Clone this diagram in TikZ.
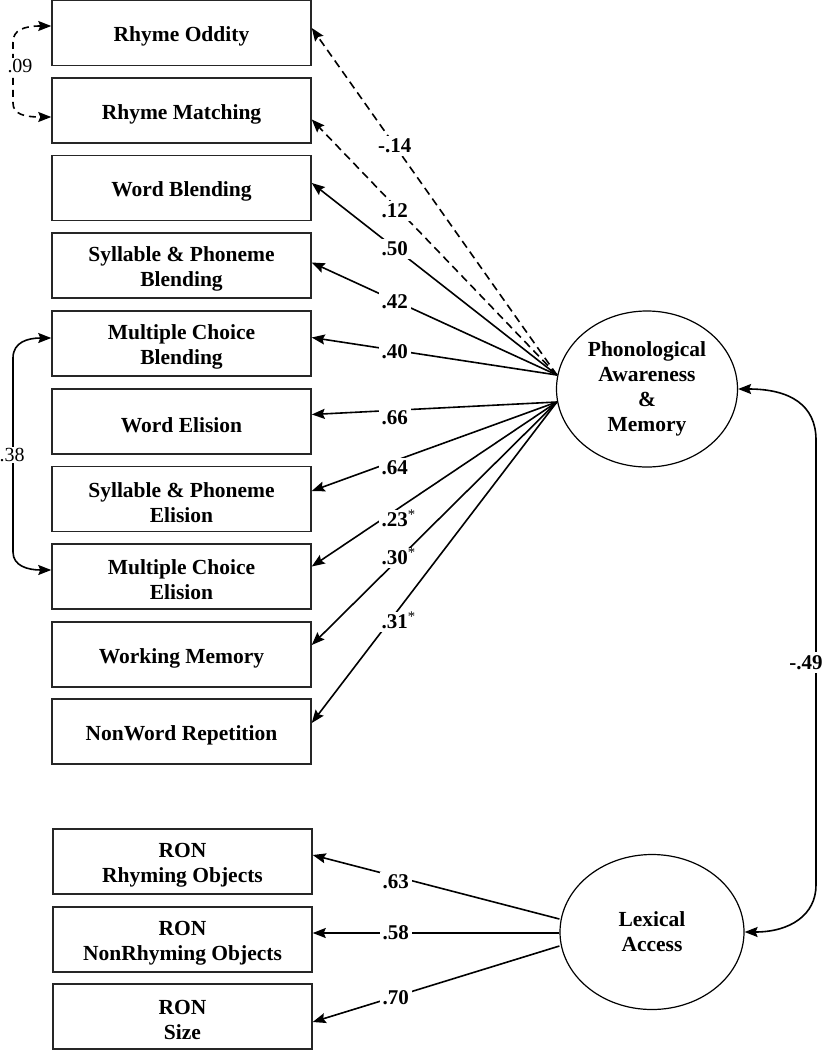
\documentclass[tikz,border=0pt]{standalone}
\usepackage{fontspec}
\setmainfont{Liberation Serif}
\usetikzlibrary{arrows.meta,shapes.geometric,calc}
\newcommand{\toppad}{\rule{0pt}{22pt}}
\begin{document}
\begin{tikzpicture}[x=1pt,y=-1pt,
  obs/.style={draw=black!85, line width=1.5pt, minimum width=259pt, minimum height=65pt, inner sep=0pt, align=center, font=\fontsize{21.5}{25}\selectfont\bfseries},
  lat/.style={draw, ellipse, line width=1.2pt, inner sep=0pt, align=center, font=\fontsize{21.5}{25}\selectfont\bfseries},
  tipshape/.tip={Stealth[length=13pt,width=10pt,inset=2pt]},
  conn/.style={line width=1.6pt, -tipshape},
  dconn/.style={conn, dash pattern=on 8pt off 5pt},
  biconn/.style={line width=1.6pt, tipshape-tipshape},
  dbiconn/.style={biconn, dash pattern=on 7pt off 5pt},
  lbl/.style={fill=white, inner sep=3pt, font=\fontsize{21}{25}\selectfont\bfseries},
  clbl/.style={fill=white, inner sep=1pt, font=\fontsize{20}{24}\selectfont},
]
\useasboundingbox (0,0) rectangle (823,1050);

% observed indicators
\node[obs] (b1)  at (181.5,33)    {\toppad Rhyme Oddity};
\node[obs] (b2)  at (181.5,110.5) {\toppad Rhyme Matching};
\node[obs] (b3)  at (181.5,188)   {\toppad Word Blending};
\node[obs] (b4)  at (181.5,265.5) {\toppad Syllable \& Phoneme\\Blending};
\node[obs] (b5)  at (181.5,343.5) {\toppad Multiple Choice\\Blending};
\node[obs] (b6)  at (181.5,421.5) {\toppad Word Elision};
\node[obs] (b7)  at (181.5,499)   {\toppad Syllable \& Phoneme\\Elision};
\node[obs] (b8)  at (181.5,576.5) {\toppad Multiple Choice\\Elision};
\node[obs] (b9)  at (181.5,654.5) {\toppad Working Memory};
\node[obs] (b10) at (181.5,731.5) {\toppad NonWord Repetition};

\node[obs] (r1) at (182.5,861.5)  {\toppad RON\\Rhyming Objects};
\node[obs] (r2) at (182.5,939.5)  {\toppad RON\\NonRhyming Objects};
\node[obs] (r3) at (182.5,1016.5) {\toppad RON\\Size};

% latent factors
\node[lat, minimum width=181pt, minimum height=156pt] (pa) at (647,389)
  {Phonological\\Awareness\\\&\\Memory};
\node[lat, minimum width=184pt, minimum height=155pt] (la) at (652,932)
  {Lexical\\Access};

\coordinate (pu) at ($(pa.west)+(1,-14)$);
\coordinate (pl) at ($(pa.west)+(1,13)$);
\coordinate (l1) at ($(la.west)+(0,-13)$);
\coordinate (l2) at ($(la.west)+(0,1)$);
\coordinate (l3) at ($(la.west)+(0,14)$);

% loadings, phonological awareness
\draw[dconn] (pu) -- node[lbl,pos=0.661] {-.14} ([yshift=5pt]b1.east);
\draw[dconn] (pu) -- node[lbl,pos=0.661,yshift=-5pt] {.12} ([yshift=-9pt]b2.east);
\draw[conn] (pu) -- node[lbl,pos=0.661,yshift=-1pt] {.50} ([yshift=5pt]b3.east);
\draw[conn] (pu) -- node[lbl,pos=0.661,yshift=-1pt] {.42} ([yshift=3pt]b4.east);
\draw[conn] (pu) -- node[lbl,pos=0.661,yshift=-1.5pt] {.40} ([yshift=6pt]b5.east);
\draw[conn] (pl) -- node[lbl,pos=0.661,yshift=-7pt] {.66} ([yshift=7pt]b6.east);
\draw[conn] (pl) -- node[lbl,pos=0.661,yshift=-7pt] {.64} ([yshift=8pt]b7.east);
\draw[conn] (pl) -- node[lbl,pos=0.661,yshift=-9pt] {.23\smash{\rlap{\textsuperscript{\normalfont*}}}} ([yshift=10pt]b8.east);
\draw[conn] (pl) -- node[lbl,pos=0.661,yshift=4.5pt] {.30\smash{\rlap{\textsuperscript{\normalfont*}}}} ([yshift=9.5pt]b9.east);
\draw[conn] (pl) -- node[lbl,pos=0.661,yshift=-8pt] {.31\smash{\rlap{\textsuperscript{\normalfont*}}}} ([yshift=8.5pt]b10.east);

% loadings, lexical access
\draw[conn] (l1) -- node[lbl,pos=0.664,yshift=-5.5pt] {.63} ([yshift=6.5pt]r1.east);
\draw[conn] (l2) -- node[lbl,pos=0.664] {.58} ([yshift=6.5pt]r2.east);
\draw[conn] (l3) -- node[lbl,pos=0.664,yshift=-1.5pt] {.70} ([yshift=-5.5pt]r3.east);

% factor correlation
\draw[biconn] (pa.east) .. controls (790,389) and (816,405) .. (816,440)
  -- node[lbl,pos=0.5,xshift=-10pt] {-.49} (816,885)
  .. controls (816,915) and (790,932) .. (la.east);

% residual correlations
\draw[dbiconn] ([yshift=7pt]b1.west) .. controls (24,26) and (13,30) .. (13,42)
  -- node[clbl,pos=0.5,xshift=7pt,yshift=6.5pt] {.09} (13,103)
  .. controls (13,114) and (24,117) .. ([yshift=-6.5pt]b2.west);
\draw[biconn] ([yshift=5.5pt]b5.west) .. controls (28,338) and (13,342) .. (13,358)
  -- node[clbl,pos=0.5,xshift=-1pt] {.38} (13,552)
  .. controls (13,566) and (28,570) .. ([yshift=6.5pt]b8.west);
\end{tikzpicture}
\end{document}
